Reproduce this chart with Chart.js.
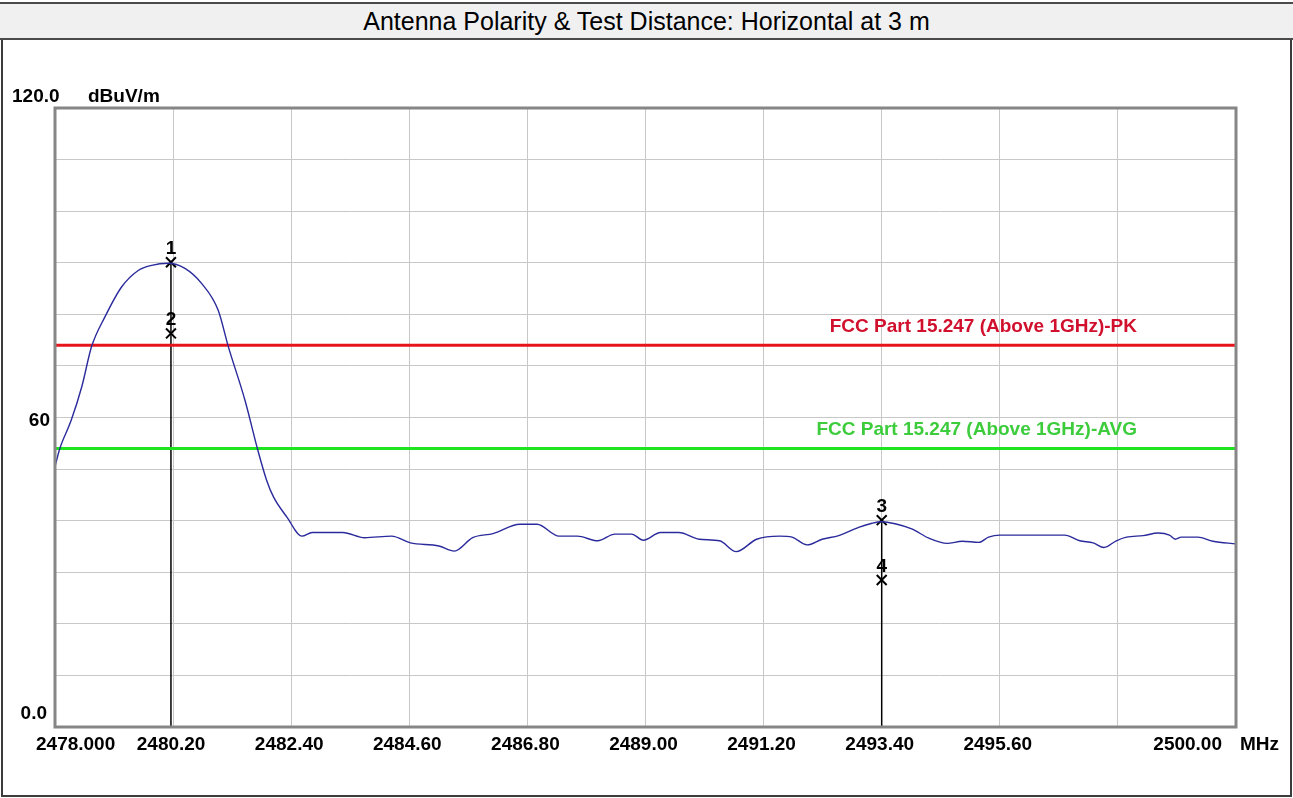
<!DOCTYPE html>
<html>
<head>
<meta charset="utf-8">
<title>Antenna Polarity &amp; Test Distance: Horizontal at 3 m</title>
<script src="https://cdn.jsdelivr.net/npm/chart.js@4.4.1/dist/chart.umd.min.js"></script>
<style>
  html, body { margin: 0; padding: 0; background: #fff; }
  #page { position: relative; width: 1293px; height: 798px; overflow: hidden; }
  #outline { position: absolute; left: 1px; top: 2px; width: 1291px; height: 795px;
             box-sizing: border-box; border: 2px solid #3c3c3c; }
  #titleBar { position: absolute; left: 0; top: 2px; width: 1293px; height: 38px;
              box-sizing: border-box; background: #f0f0f0;
              border-top: 2px solid #4a4a4a; border-bottom: 2px solid #4a4a4a;
              font: 25px "Liberation Sans", Arial, sans-serif; color: #000;
              text-align: center; line-height: 34px; }
  #chart { position: absolute; left: 0; top: 0; }
</style>
</head>
<body>
<div id="page">
  <div id="outline"></div>
  <div id="titleBar">Antenna Polarity &amp; Test Distance: Horizontal at 3 m</div>
  <canvas id="chart" width="1293" height="798"></canvas>
</div>
<script>
// Axis setup
const xTicks = [2478.0, 2480.2, 2482.4, 2484.6, 2486.8, 2489.0, 2491.2, 2493.4, 2495.6, 2497.8, 2500.0];
const xTickLabels = ["2478.000", "2480.20", "2482.40", "2484.60", "2486.80", "2489.00",
                     "2491.20", "2493.40", "2495.60", "", "2500.00"];
const xUnit = "MHz";
const yTicks = [0, 10, 20, 30, 40, 50, 60, 70, 80, 90, 100, 110, 120];
const yLabelValues = [120, 60, 0];
const yLabelTexts = ["120.0", "60", "0.0"];
const yUnit = "dBuV/m";

// Measured trace (MHz / dBuV/m)
const traceFreq = [
  2478.00, 2478.09, 2478.30, 2478.50, 2478.68, 2478.93, 2479.24, 2479.55, 2479.80, 2480.11,
  2480.42, 2480.73, 2481.04, 2481.23, 2481.54, 2481.78, 2481.94, 2482.07, 2482.32, 2482.60,
  2482.79, 2483.36, 2483.77, 2484.27, 2484.62, 2485.15, 2485.44, 2485.78, 2486.16, 2486.66,
  2486.98, 2487.39, 2487.73, 2488.11, 2488.43, 2488.74, 2488.96, 2489.28, 2489.62, 2490.00,
  2490.38, 2490.69, 2491.07, 2491.50, 2491.73, 2492.01, 2492.29, 2492.60, 2492.97, 2493.22,
  2493.40, 2493.65, 2493.96, 2494.28, 2494.62, 2494.90, 2495.21, 2495.39, 2495.60, 2496.81,
  2497.09, 2497.34, 2497.54, 2497.77, 2497.96, 2498.27, 2498.55, 2498.76, 2498.87, 2498.98,
  2499.29, 2499.57, 2500.00
];
const traceLevel = [
  50.5, 54.0, 59.4, 66.0, 73.7, 79.5, 85.3, 88.5, 89.5, 89.9,
  88.9, 86.0, 80.8, 73.7, 63.3, 53.6, 47.9, 44.6, 40.7, 37.0,
  37.7, 37.7, 36.7, 37.0, 35.7, 35.1, 34.1, 36.7, 37.5, 39.3,
  39.3, 37.0, 37.0, 36.1, 37.4, 37.4, 36.2, 37.7, 37.7, 36.4,
  36.1, 34.0, 36.4, 37.0, 36.8, 35.3, 36.4, 37.1, 38.7, 39.5,
  39.8, 39.4, 38.4, 36.6, 35.6, 36.0, 35.8, 36.8, 37.2, 37.2,
  36.1, 35.7, 34.8, 36.1, 36.8, 37.1, 37.6, 37.2, 36.4, 36.8,
  36.8, 36.0, 35.5
];

// Limit lines
const limitNames = ["FCC Part 15.247 (Above 1GHz)-PK", "FCC Part 15.247 (Above 1GHz)-AVG"];
const limitLevels = [74, 54];
const limitColors = ["#e8141c", "#1ee41e"];
const limitTextColors = ["#d0102c", "#3ccc3c"];

// Markers
const markerIds = ["1", "2", "3", "4"];
const markerFreq = [2480.16, 2480.16, 2493.40, 2493.40];
const markerLevel = [90.1, 76.3, 40.1, 28.5];

const fontBold = 'bold 19px "Liberation Sans", Arial, sans-serif';

const decorPlugin = {
  id: "decor",
  afterDatasetsDraw(chart) {
    const { ctx, chartArea: a, scales: { x, y } } = chart;
    ctx.save();

    // plot frame
    ctx.strokeStyle = "#868686";
    ctx.lineWidth = 3;
    ctx.strokeRect(a.left, a.top, a.right - a.left, a.bottom - a.top);

    ctx.font = fontBold;
    ctx.textBaseline = "middle";

    // limit line captions
    limitNames.forEach((name, i) => {
      ctx.fillStyle = limitTextColors[i];
      ctx.textAlign = "right";
      ctx.fillText(name, a.right - 99, y.getPixelForValue(limitLevels[i]) - 19);
    });

    // marker numbers
    const meta = chart.getDatasetMeta(chart.data.datasets.length - 1);
    ctx.fillStyle = "#000";
    ctx.textAlign = "center";
    ctx.textBaseline = "bottom";
    ctx.font = 'bold 19px "Liberation Sans", Arial, sans-serif';
    meta.data.forEach((pt, i) => {
      ctx.fillText(markerIds[i], pt.x, pt.y - 4);
    });

    // x labels
    ctx.font = fontBold;
    ctx.textBaseline = "middle";
    const ly = a.bottom + 18;
    xTicks.forEach((v, i) => {
      const label = xTickLabels[i];
      if (!label) return;
      let px = x.getPixelForValue(v) - 2;
      ctx.textAlign = "center";
      if (i === 0) { ctx.textAlign = "left"; px = x.getPixelForValue(v) - 19; }
      if (i === xTicks.length - 1) { ctx.textAlign = "right"; px = x.getPixelForValue(v) - 14; }
      ctx.fillText(label, px, ly);
    });
    ctx.textAlign = "left";
    ctx.fillText(xUnit, a.right + 4, ly);

    // y labels
    yLabelValues.forEach((v, i) => {
      const py = y.getPixelForValue(v);
      if (i === 0) {
        ctx.textAlign = "left";
        ctx.fillText(yLabelTexts[i], 12, py - 11);
        ctx.fillText(yUnit, 88, py - 11);
      } else if (i === yLabelValues.length - 1) {
        ctx.textAlign = "right";
        ctx.fillText(yLabelTexts[i], 47, py - 13);
      } else {
        ctx.textAlign = "right";
        ctx.fillText(yLabelTexts[i], 50, py + 3);
      }
    });

    ctx.restore();
  }
};

const datasets = [];
datasets.push({
  data: traceFreq.map((f, i) => ({ x: f, y: traceLevel[i] })),
  borderColor: "#2a2a9c",
  borderWidth: 1.4,
  pointRadius: 0,
  cubicInterpolationMode: "monotone"
});
limitLevels.forEach((lv, i) => {
  datasets.push({
    data: [{ x: xTicks[0], y: lv }, { x: xTicks[xTicks.length - 1], y: lv }],
    borderColor: limitColors[i],
    borderWidth: 3,
    pointRadius: 0
  });
});
// vertical marker lines (from the upper marker of each pair down to the axis)
[0, 2].forEach((m) => {
  datasets.push({
    data: [{ x: markerFreq[m], y: 0 }, { x: markerFreq[m], y: markerLevel[m] }],
    borderColor: "#000",
    borderWidth: 1.5,
    pointRadius: 0
  });
});
datasets.push({
  data: markerFreq.map((f, i) => ({ x: f, y: markerLevel[i] })),
  showLine: false,
  pointStyle: "crossRot",
  pointRadius: 7,
  borderColor: "#000",
  borderWidth: 2
});

new Chart(document.getElementById("chart"), {
  type: "line",
  data: { datasets },
  options: {
    responsive: false,
    animation: false,
    layout: { padding: { left: 55, top: 108, right: 57, bottom: 71 } },
    plugins: { legend: { display: false }, tooltip: { enabled: false } },
    scales: {
      x: {
        type: "linear",
        min: xTicks[0],
        max: xTicks[xTicks.length - 1],
        afterBuildTicks: (s) => { s.ticks = xTicks.map((v) => ({ value: v })); },
        ticks: { display: false },
        grid: { color: "#c8c8c8", lineWidth: 1, drawTicks: false },
        border: { display: false }
      },
      y: {
        min: 0,
        max: 120,
        afterBuildTicks: (s) => { s.ticks = yTicks.map((v) => ({ value: v })); },
        ticks: { display: false },
        grid: { color: "#c8c8c8", lineWidth: 1, drawTicks: false },
        border: { display: false }
      }
    }
  },
  plugins: [decorPlugin]
});
</script>
</body>
</html>
